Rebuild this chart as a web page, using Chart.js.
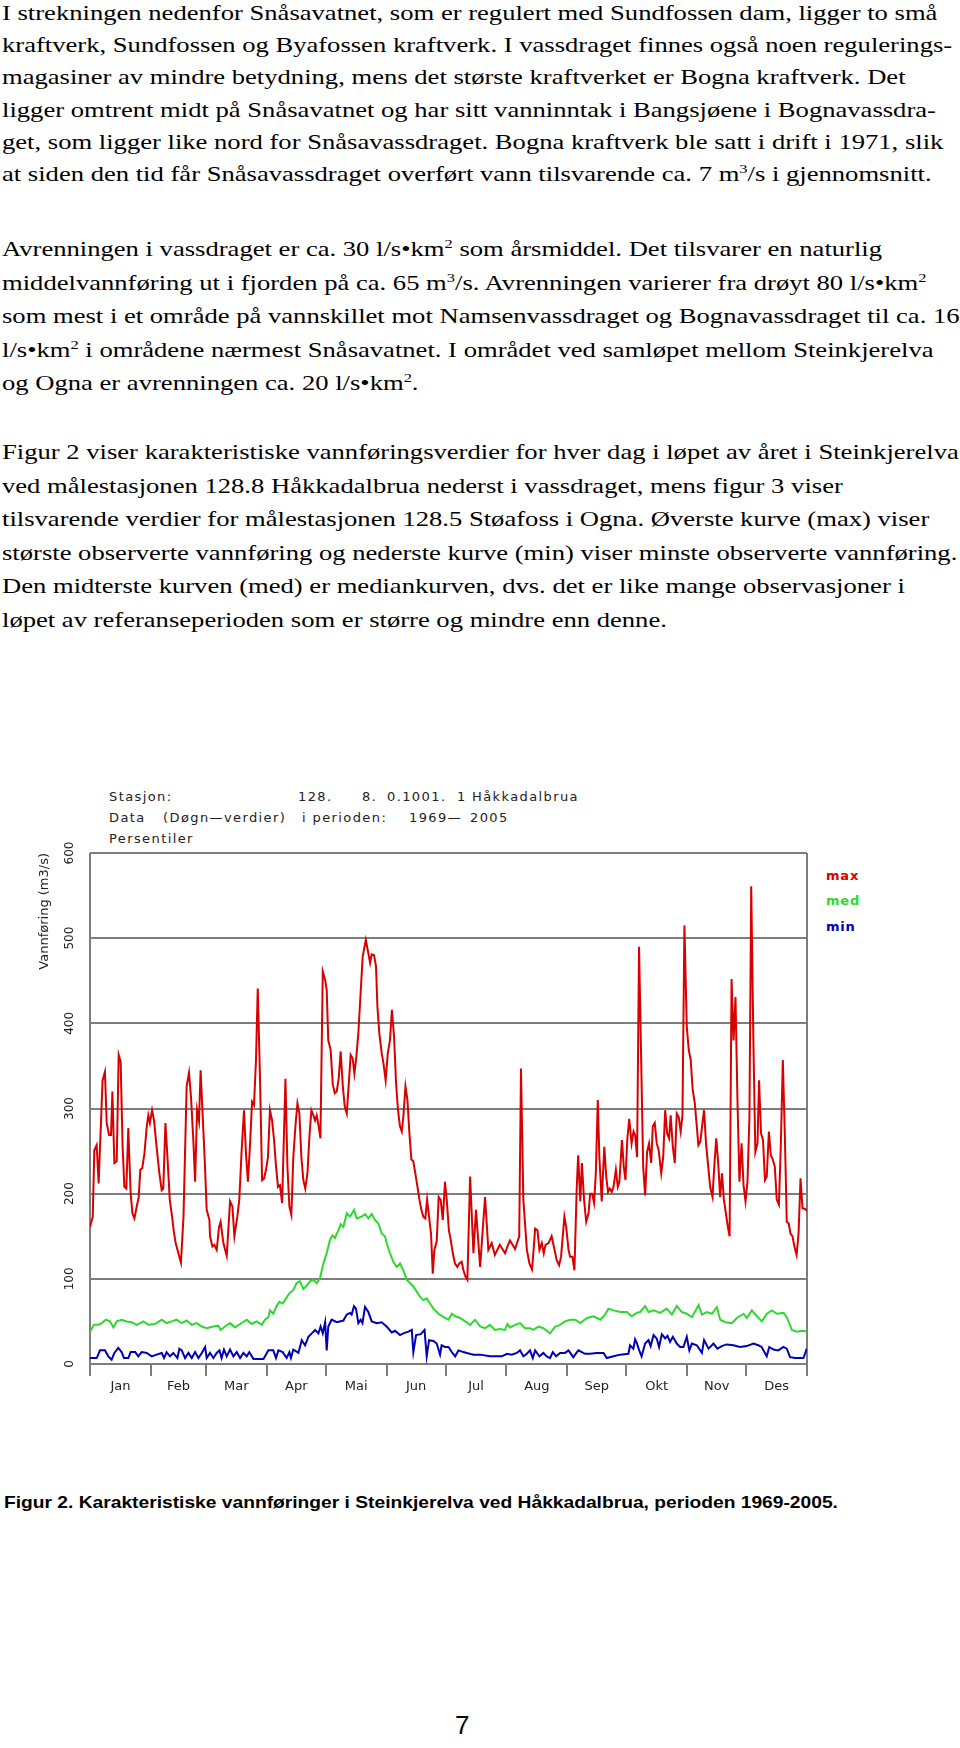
<!DOCTYPE html>
<html>
<head>
<meta charset="utf-8">
<script src="https://cdn.jsdelivr.net/npm/chart.js@4.4.1/dist/chart.umd.min.js"></script>
<style>
  html, body { margin: 0; padding: 0; background: #fff; }
  body { width: 960px; height: 1748px; position: relative; overflow: hidden; }
  .txt { position: absolute; left: 2px; font-family: "Liberation Serif", "Times New Roman", serif;
         font-size: 21px; line-height: 21px; white-space: nowrap; color: #000; transform-origin: 0 50%; }
  .txt sup { font-size: 13px; line-height: 0; vertical-align: 0; position: relative; top: -8px; }
  .ct { position: absolute; font-family: "DejaVu Sans", sans-serif; font-size: 13px; line-height: 13px;
        letter-spacing: 1.4px; white-space: nowrap; color: #222; }
  .lg { position: absolute; left: 826px; font-family: "DejaVu Sans", sans-serif; font-size: 13px; line-height: 13px;
        font-weight: bold; letter-spacing: 0.8px; }
  .caption { position: absolute; left: 4px; top: 1494px; font-family: "Liberation Sans", Arial, sans-serif;
             font-size: 17px; line-height: 17px; font-weight: bold; white-space: nowrap; transform-origin: 0 50%; }
  .pageno { position: absolute; left: 455px; top: 1712px; font-family: "Liberation Sans", Arial, sans-serif;
            font-size: 26px; line-height: 26px; }
  #flowChart { position: absolute; left: 0; top: 770px; }
</style>
</head>
<body>

<div class="txt" style="top:3px">I strekningen nedenfor Snåsavatnet, som er regulert med Sundfossen dam, ligger to små</div>
<div class="txt" style="top:35px">kraftverk, Sundfossen og Byafossen kraftverk. I vassdraget finnes også noen regulerings-</div>
<div class="txt" style="top:67px">magasiner av mindre betydning, mens det største kraftverket er Bogna kraftverk. Det</div>
<div class="txt" style="top:100px">ligger omtrent midt på Snåsavatnet og har sitt vanninntak i Bangsjøene i Bognavassdra-</div>
<div class="txt" style="top:132px">get, som ligger like nord for Snåsavassdraget. Bogna kraftverk ble satt i drift i 1971, slik</div>
<div class="txt" style="top:164px">at siden den tid får Snåsavassdraget overført vann tilsvarende ca. 7 m<sup>3</sup>/s i gjennomsnitt.</div>

<div class="txt" style="top:239px">Avrenningen i vassdraget er ca. 30 l/s•km<sup>2</sup> som årsmiddel. Det tilsvarer en naturlig</div>
<div class="txt" style="top:273px">middelvannføring ut i fjorden på ca. 65 m<sup>3</sup>/s. Avrenningen varierer fra drøyt 80 l/s•km<sup>2</sup></div>
<div class="txt" style="top:306px">som mest i et område på vannskillet mot Namsenvassdraget og Bognavassdraget til ca. 16</div>
<div class="txt" style="top:340px">l/s•km<sup>2</sup> i områdene nærmest Snåsavatnet. I området ved samløpet mellom Steinkjerelva</div>
<div class="txt" style="top:373px">og Ogna er avrenningen ca. 20 l/s•km<sup>2</sup>.</div>

<div class="txt" style="top:442px">Figur 2 viser karakteristiske vannføringsverdier for hver dag i løpet av året i Steinkjerelva</div>
<div class="txt" style="top:476px">ved målestasjonen 128.8 Håkkadalbrua nederst i vassdraget, mens figur 3 viser</div>
<div class="txt" style="top:509px">tilsvarende verdier for målestasjonen 128.5 Støafoss i Ogna. Øverste kurve (max) viser</div>
<div class="txt" style="top:543px">største observerte vannføring og nederste kurve (min) viser minste observerte vannføring.</div>
<div class="txt" style="top:576px">Den midterste kurven (med) er mediankurven, dvs. det er like mange observasjoner i</div>
<div class="txt" style="top:610px">løpet av referanseperioden som er større og mindre enn denne.</div>

<!-- chart header, placed like the plotter output -->
<div class="ct" style="left:109px;top:790px">Stasjon:</div>
<div class="ct" style="left:298px;top:790px">128.</div>
<div class="ct" style="left:362px;top:790px">8.</div>
<div class="ct" style="left:387px;top:790px">0.1001.</div>
<div class="ct" style="left:457px;top:790px">1</div>
<div class="ct" style="left:472px;top:790px">Håkkadalbrua</div>
<div class="ct" style="left:109px;top:811px">Data</div>
<div class="ct" style="left:163px;top:811px">(Døgn—verdier)</div>
<div class="ct" style="left:302px;top:811px">i perioden:</div>
<div class="ct" style="left:409px;top:811px">1969—</div>
<div class="ct" style="left:470px;top:811px">2005</div>
<div class="ct" style="left:109px;top:832px">Persentiler</div>

<div class="lg" style="top:869px;color:#d80000">max</div>
<div class="lg" style="top:894px;color:#2ed82e">med</div>
<div class="lg" style="top:920px;color:#0000b4">min</div>

<canvas id="flowChart" width="960" height="660" style="width:960px;height:660px"></canvas>

<div class="caption" id="caption">Figur 2. Karakteristiske vannføringer i Steinkjerelva ved Håkkadalbrua, perioden 1969-2005.</div>
<div class="pageno">7</div>

<script>
// month axis
const MONTH_LABELS = ['Jan', 'Feb', 'Mar', 'Apr', 'Mai', 'Jun', 'Jul', 'Aug', 'Sep', 'Okt', 'Nov', 'Des'];
const MONTH_STARTS = [0, 31, 59, 90, 120, 151, 181, 212, 243, 273, 304, 334, 365];
const MONTH_MIDS = [15.5, 45, 74.5, 105, 135.5, 166, 196.5, 227.5, 258, 288.5, 319, 349.5];
const Y_TICKS = [0, 100, 200, 300, 400, 500, 600];

// [day of year, m3/s]
const maxPoints = [
  [0,161],[1.4,173],[2.2,251],[3.4,257],[4.4,212],[6.4,333],[7.6,343],[8.5,283],[9.7,269],[10.7,269],
  [11.4,320],[12.4,236],[13.6,238],[14.6,363],[15.6,355],[16.6,255],[17.5,208],[18.5,206],[19.5,277],[20.7,200],
  [21.6,177],[22.6,171],[23.8,185],[24.8,196],[25.6,228],[26.6,230],[27.7,247],[28.9,279],[29.7,292],[30.5,283],
  [31.6,298],[32.6,286],[33.9,255],[35.3,224],[36.5,204],[37.3,206],[38.4,283],[39.5,240],[40.6,193],[41.8,173],
  [42.6,157],[43.6,142],[46.3,119],[47.6,173],[49.2,326],[50.4,342],[51.4,314],[52.6,263],[53.5,214],[54.5,298],
  [55.5,285],[56.3,345],[57.4,290],[58.4,240],[59.4,181],[60.8,169],[61.1,150],[62.3,138],[63.3,140],[64.5,134],
  [65.7,161],[66.5,167],[67.9,142],[69.6,127],[71.3,191],[72.5,185],[73.5,150],[75,173],[76,193],[77.2,251],
  [78.4,298],[79.4,247],[80.4,214],[81.5,259],[82.5,308],[83.5,304],[84.5,357],[85.4,441],[86.6,330],[87.6,216],
  [88.6,218],[89.6,228],[90.6,243],[91.6,298],[92.7,286],[93.7,263],[94.7,232],[95.7,208],[96.7,210],[97.8,189],
  [99.5,335],[100.5,232],[101.5,185],[102.5,175],[103.5,243],[104.7,283],[105.6,306],[106.6,294],[107.6,243],[108.6,216],
  [109.6,206],[110.7,224],[111.7,267],[112.7,298],[113.7,292],[114.6,286],[115.4,292],[116.4,279],[117.3,265],[118.5,461],
  [119.7,451],[120.5,439],[121.3,380],[122.5,369],[123.6,328],[124.6,318],[125.6,320],[126.6,335],[127.6,367],[128.7,326],
  [129.7,302],[130.7,294],[131.7,328],[132.7,363],[133.7,359],[134.6,341],[135.6,361],[136.6,388],[138.8,478],[140.4,498],
  [141.4,486],[142.6,471],[143.4,481],[144.6,480],[145.6,467],[146.3,420],[147.3,388],[148.5,365],[149.4,353],[150.5,333],
  [151.6,365],[152.7,380],[153.7,416],[154.8,384],[155.8,330],[156.8,298],[157.8,279],[158.7,273],[159.5,290],[160.6,326],
  [161.6,310],[162.6,271],[163.6,240],[164.6,238],[165.6,224],[166.7,208],[167.7,193],[168.7,181],[169.7,173],[170.7,171],
  [171.6,193],[172.6,173],[173.6,153],[174.5,106],[175.3,134],[176.5,144],[177.5,196],[178.5,193],[179.6,169],[180.7,214],
  [181.6,193],[182.7,157],[183.6,146],[184.7,130],[185.8,118],[187,114],[188,118],[189.2,120],[190.1,110],[191.1,103],
  [192.1,99],[193.5,220],[195.2,130],[196.5,181],[198.6,114],[201.1,196],[202.8,134],[204.5,142],[206.1,128],[208.6,140],
  [211.3,130],[212.5,138],[213.8,145],[216.4,135],[218.5,150],[219.4,347],[220.6,193],[222.4,134],[223.7,118],[225,111],
  [225.7,130],[226.6,159],[227.8,157],[228.8,134],[230,142],[231,130],[231.9,140],[233.4,142],[235,150],[237.6,122],
  [238.8,116],[239.8,126],[241.5,173],[242.4,161],[243.6,134],[244.4,126],[245.6,126],[246.6,110],[247.8,208],[248.5,245],
  [249.6,191],[250.4,236],[251.5,193],[252.6,167],[253.8,177],[254.6,200],[255.6,200],[256.6,189],[257.5,224],[258.5,310],
  [259.3,243],[260.5,191],[261.8,255],[262.8,220],[263.7,202],[264.6,206],[265.6,202],[266.5,208],[267.7,228],[268.7,208],
  [269.5,214],[270.8,263],[271.7,232],[272.6,216],[273.5,263],[274.5,288],[275.7,259],[276.7,273],[277.5,269],[278.5,243],
  [279.5,490],[281.6,232],[282.6,198],[283.6,249],[284.6,259],[285.7,236],[286.5,279],[287.5,283],[288.5,259],[289.5,251],
  [290.8,224],[291.8,243],[292.8,298],[293.8,271],[294.8,265],[295.6,292],[296.7,255],[297.7,236],[298.7,294],[299.7,290],
  [300.7,273],[301.6,292],[302.6,515],[303.8,396],[304.8,369],[305.8,357],[306.8,322],[307.9,306],[308.9,279],[309.7,257],
  [310.7,261],[311.8,283],[312.6,298],[313.6,259],[314.7,232],[315.7,208],[316.9,196],[317.8,232],[318.8,265],[319.8,236],
  [320.8,196],[321.7,224],[322.7,193],[323.7,177],[324.7,161],[325.6,150],[326.6,452],[327.6,380],[328.6,431],[329.6,310],
  [330.6,214],[331.7,259],[332.7,210],[333.7,191],[334.7,214],[335.7,290],[336.6,561],[337.7,380],[338.7,249],[339.8,259],
  [340.6,333],[341.6,271],[342.6,263],[343.6,216],[344.5,220],[345.6,273],[346.6,245],[347.6,240],[348.6,232],[349.6,193],
  [350.7,187],[351.7,259],[352.7,357],[353.7,271],[354.7,167],[355.7,165],[356.6,153],[357.6,150],[358.6,138],[359.7,128],
  [360.7,153],[361.7,218],[362.7,183],[364,182],[365,180]
];

const medPoints = [
  [0,38],[2,46],[4.2,46],[6,48],[8.1,52],[10.2,50],[11.9,43],[13.6,50],[16.1,52],[18.7,50],
  [21.2,49],[23.8,46],[27.2,50],[29.7,46],[33.1,47],[36.5,52],[39,48],[41.6,50],[44.1,52],[46.7,48],
  [49.2,51],[51.8,46],[54.3,48],[56.9,44],[59.4,42],[62.8,44],[65.3,45],[66.5,40],[68.7,44],[71.3,48],
  [73.8,43],[76.4,47],[79.8,52],[82.3,47],[84.9,50],[87.4,46],[89.1,52],[90.8,55],[91.6,63],[93.3,59],
  [95,68],[96.4,73],[98.1,71],[99.8,77],[101.5,83],[103.5,87],[105.2,95],[106.9,97],[108.6,88],[110.3,92],
  [112,97],[113.7,99],[115.4,95],[117.1,101],[118.8,118],[120.5,130],[122.2,146],[123.4,151],[124.7,148],[126.4,157],
  [127.6,164],[129,161],[130.7,177],[132.4,173],[134.4,181],[135.8,171],[138.3,173],[140,176],[141.7,171],[143.4,176],
  [145.1,169],[146.8,165],[148.5,153],[150.2,150],[151,142],[152.7,130],[154.4,120],[156.1,114],[157.8,118],[159.5,110],
  [161.2,99],[162.9,95],[164.6,91],[166.3,85],[168,79],[169.7,75],[171.4,77],[173.1,71],[174.8,65],[177.4,59],
  [180,55],[182.5,52],[184.2,59],[185.9,56],[188.4,54],[191,50],[193.5,46],[196,52],[198.6,44],[201.1,42],
  [203.6,46],[206.1,40],[208.6,41],[211.3,40],[212.5,47],[213.8,43],[216.4,46],[218.9,48],[221.5,42],[224,42],
  [225.7,40],[228.3,44],[230.8,42],[234.2,36],[236.8,44],[239.3,46],[241.8,50],[244.4,52],[247,52],[249.6,48],
  [253,54],[256.3,56],[259.8,52],[262.2,58],[263.9,65],[266.5,63],[269.9,61],[273.3,61],[275.8,56],[278.3,60],
  [280,61],[282.6,68],[284.3,61],[286.9,63],[290.2,60],[293.6,65],[296.2,58],[298.7,68],[301.3,61],[303.8,59],
  [306.4,55],[309.8,69],[311.5,58],[314,61],[316.6,59],[319.1,67],[320.8,52],[323.4,49],[326.7,48],[329.3,54],
  [332.7,59],[334.4,54],[336.9,63],[339.5,56],[342,50],[344.6,59],[347.1,63],[349.7,59],[353.1,60],[354.7,55],
  [357.3,40],[359.8,38],[362.4,39],[365,38]
];

const minPoints = [
  [0,7],[3.4,7],[5.1,16],[7.6,16],[9.3,9],[11,5],[12.4,13],[14.4,19],[16.1,14],[17.3,7],
  [19.5,7],[20.7,14],[23,14],[24.6,9],[26.3,14],[28.9,13],[31.4,9],[33.9,11],[36.5,13],[37.7,7],
  [39,14],[40.7,9],[42.4,13],[44.5,7],[45.5,18],[46.7,16],[48.4,7],[50.1,13],[51.8,7],[53.5,14],
  [55.2,7],[56.9,13],[58.6,20],[59.4,7],[61.1,13],[62.8,7],[64.5,13],[65.9,16],[67,7],[68.2,17],
  [69.6,9],[71.3,17],[73,9],[74.7,14],[76.4,7],[78.1,13],[79.8,9],[81.1,14],[83.2,6],[88.3,6],
  [90.8,16],[93.3,16],[94.7,7],[95.9,16],[98.1,14],[100.1,7],[101.5,14],[102.3,7],[103.5,17],[106.1,13],
  [107.8,28],[109.5,22],[111.2,32],[112.9,36],[114.6,40],[116.3,36],[117.4,44],[118.5,36],[119.7,49],[120.5,16],
  [121.3,44],[123,52],[125.6,49],[129,51],[130.7,58],[132.4,60],[133.2,58],[134.4,68],[135.4,65],[136.6,48],
  [137.8,52],[138.7,48],[140,67],[141.7,61],[143.4,50],[146,48],[148.5,49],[151,44],[153.6,37],[155.3,39],
  [157.8,34],[159.5,36],[162.1,38],[163.8,40],[164.6,14],[166,34],[168.4,35],[170.3,40],[171.4,9],[172.6,28],
  [174.8,27],[176.5,24],[178.2,11],[179,22],[180.7,20],[182.5,20],[184.2,14],[185.9,9],[187.6,16],[190.1,14],
  [191.8,13],[195.2,11],[198.6,11],[203.6,9],[206.1,9],[209.6,9],[212.3,12],[214.7,11],[217.3,13],[218.9,16],
  [220.6,9],[222.4,12],[224,16],[225.4,7],[226.6,16],[228.8,9],[230.8,13],[232.5,9],[234.2,7],[235.6,14],
  [237.3,9],[239.3,13],[241.8,13],[243.6,16],[246,8],[248.6,16],[252,12],[254.6,12],[258,13],[261.4,13],
  [263.1,7],[266.5,9],[269.9,11],[274.1,12],[274.9,22],[276.6,18],[277.5,29],[278.3,25],[279.6,16],[280.8,9],
  [282.6,24],[284.3,28],[285.4,21],[286.9,34],[288.5,30],[289.7,20],[291.1,35],[292.8,30],[294,33],[295.3,26],
  [296.7,32],[298.7,24],[300.4,20],[302.1,20],[303.8,32],[305.1,16],[306.4,24],[308.9,22],[311.5,13],[312.6,28],
  [314.9,18],[317.4,24],[319.4,18],[321.6,21],[324.1,23],[327.5,22],[330.9,20],[334.3,21],[337.7,24],[340.2,22],
  [341.9,20],[344.5,9],[345.8,20],[347.9,17],[350.4,16],[353,20],[354.7,18],[356.4,8],[359,7],[363.2,7],
  [364.9,18]
];

const RED = '#d80000';
const GREEN = '#2ed82e';
const BLUE = '#0000b4';
const GRID = '#7d7d7d';
const AXIS_FONT = { family: 'DejaVu Sans', size: 13 };

function toXY(points) {
  return points.map(p => ({ x: p[0], y: p[1] }));
}

function lineSet(label, points, color) {
  return { label, data: toXY(points), borderColor: color, backgroundColor: color,
           borderWidth: 2, pointRadius: 0, tension: 0, fill: false };
}

// the scanned page is stretched sideways, so stretch the text lines to the measured widths
function fitWidth(els, target) {
  const natural = els[0].offsetWidth;
  const s = target / natural;
  els.forEach(el => { el.style.transform = 'scaleX(' + s + ')'; });
}

// month names are widely spaced plotter lettering; the month axis is drawn after the lines (z: 1)
const spacedText = {
  id: 'spacedText',
  beforeDraw(chart) { chart.ctx.letterSpacing = '0px'; },
  afterDatasetsDraw(chart) { chart.ctx.letterSpacing = '2.5px'; },
  afterDraw(chart) { chart.ctx.letterSpacing = '0px'; }
};

document.addEventListener('DOMContentLoaded', () => {
  fitWidth(Array.from(document.querySelectorAll('.txt')), 935);
  fitWidth([document.getElementById('caption')], 834);

  Chart.defaults.font.family = 'DejaVu Sans';

  new Chart(document.getElementById('flowChart'), {
    type: 'line',
    data: {
      datasets: [
        lineSet('max', maxPoints, RED),
        lineSet('med', medPoints, GREEN),
        lineSet('min', minPoints, BLUE)
      ]
    },
    plugins: [spacedText],
    options: {
      responsive: false,
      animation: false,
      devicePixelRatio: 1,
      layout: { padding: { left: 0, right: 153, top: 83, bottom: 24 } },
      plugins: { legend: { display: false }, tooltip: { enabled: false } },
      scales: {
        x: {
          type: 'linear', min: 0, max: 365, weight: 0,
          afterBuildTicks: s => { s.ticks = MONTH_STARTS.map(v => ({ value: v })); },
          afterFit: s => { s.height = 12; },
          ticks: { display: false },
          grid: {
            drawTicks: true, tickLength: 12, lineWidth: 2, tickColor: GRID,
            color: c => (c.tick && (c.tick.value === 0 || c.tick.value === 365)) ? GRID : 'rgba(0,0,0,0)'
          },
          border: { display: false }
        },
        month: {
          type: 'linear', position: 'bottom', min: 0, max: 365, weight: 1, z: 1,
          afterBuildTicks: s => { s.ticks = MONTH_MIDS.map(v => ({ value: v })); },
          afterFit: s => { s.height = 30; },
          ticks: { autoSkip: false, maxRotation: 0, padding: 3, font: AXIS_FONT, color: '#222',
                   callback: (v, i) => MONTH_LABELS[i] },
          grid: { display: false, drawTicks: false },
          border: { display: false }
        },
        y: {
          min: 0, max: 600,
          afterBuildTicks: s => { s.ticks = Y_TICKS.map(v => ({ value: v })); },
          afterFit: s => { s.width = 90; },
          ticks: { minRotation: 90, maxRotation: 90, crossAlign: 'center', padding: 9,
                   font: { family: 'DejaVu Sans', size: 12 }, color: '#222' },
          grid: { drawTicks: false, color: GRID, lineWidth: 2 },
          border: { display: false },
          title: { display: true, text: 'Vannføring (m3/s)', align: 'end', color: '#222',
                   font: AXIS_FONT, padding: { top: 37, bottom: 0 } }
        }
      }
    }
  });
});
</script>
</body>
</html>
